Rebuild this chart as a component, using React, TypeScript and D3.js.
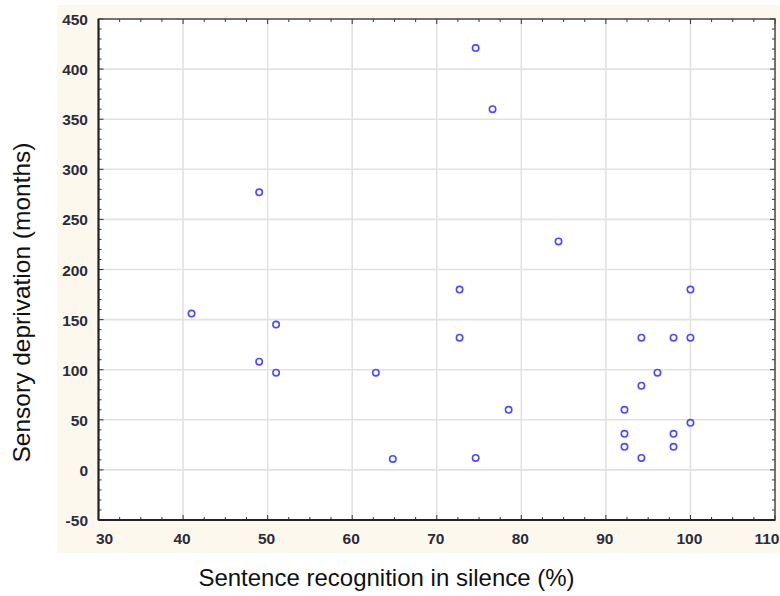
import React from "react";
import * as d3 from "d3";

const recognition = [41, 49, 49, 51, 51, 62.8, 64.8, 72.7, 72.7, 74.6, 74.6, 76.6, 78.5, 84.4, 92.2, 92.2, 92.2, 94.2, 94.2, 94.2, 96.1, 98, 98, 98, 100, 100, 100];
const deprivation = [156, 277, 108, 145, 97, 97, 11, 180, 132, 421, 12, 360, 60, 228, 60, 36, 23, 132, 84, 12, 97, 132, 36, 23, 180, 132, 47];
const xTicks = [30, 40, 50, 60, 70, 80, 90, 100, 110];
const yTicks = [-50, 0, 50, 100, 150, 200, 250, 300, 350, 400, 450];
const xLabel = "Sentence recognition in silence (%)";
const yLabel = "Sensory deprivation (months)";

export default function App() {
  const W = 780, H = 596;
  const left = 98.5, right = 775, top = 19, bottom = 520;
  const x = d3.scaleLinear().domain([30, 110]).range([left, right]);
  const y = d3.scaleLinear().domain([-50, 450]).range([bottom, top]);
  const xMinor = d3.range(30, 110.01, 2.5);
  const yMinor = d3.range(-50, 450.01, 10);
  const pts = recognition.map((r, i) => [r, deprivation[i]]);
  const font = "Arial, 'Liberation Sans', sans-serif";
  const xLabelPos = (t: number, i: number) => {
    if (i === 0) return x(t) + 6;
    if (i === xTicks.length - 1) return x(t) - 8;
    return x(t) - 1;
  };
  return (
    <svg width={W} height={H} style={{ position: "absolute", left: 0, top: 0 }}>
      <rect x={0} y={0} width={W} height={H} fill="#ffffff" />
      <rect x={57} y={5} width={W - 57} height={548} fill="#fdf8ee" />
      <rect x={left} y={top} width={right - left} height={bottom - top} fill="#ffffff" />
      {xTicks.slice(1, -1).map((t) => (
        <line key={"gx" + t} x1={x(t)} x2={x(t)} y1={top} y2={bottom} stroke="#e2e2e2" strokeWidth={1.6} />
      ))}
      {yTicks.slice(1, -1).map((t) => (
        <line key={"gy" + t} x1={left} x2={right} y1={y(t)} y2={y(t)} stroke="#e2e2e2" strokeWidth={1.6} />
      ))}
      {xMinor.map((t) => {
        const major = t % 10 === 0;
        const len = major ? 5 : 3;
        return (
          <g key={"xm" + t}>
            <line x1={x(t)} x2={x(t)} y1={bottom} y2={bottom - len} stroke="#333" strokeWidth={1} />
            <line x1={x(t)} x2={x(t)} y1={top} y2={top + len} stroke="#333" strokeWidth={1} />
          </g>
        );
      })}
      {yMinor.map((t) => {
        const major = t % 50 === 0;
        const len = major ? 5 : 3;
        return (
          <g key={"ym" + t}>
            <line x1={left} x2={left + len} y1={y(t)} y2={y(t)} stroke="#333" strokeWidth={1} />
            <line x1={right} x2={right - len} y1={y(t)} y2={y(t)} stroke="#333" strokeWidth={1} />
          </g>
        );
      })}
      <rect x={left} y={top} width={right - left} height={bottom - top} fill="none" stroke="#444" strokeWidth={1.5} />
      <line x1={left} x2={left} y1={top} y2={bottom} stroke="#222" strokeWidth={2} />
      <line x1={left} x2={right} y1={bottom} y2={bottom} stroke="#222" strokeWidth={2} />
      {xTicks.map((t, i) => (
        <text key={"xt" + t} x={xLabelPos(t, i)} y={544} textAnchor="middle" fontFamily={font} fontWeight="bold" fontSize={15.5} fill="#2b2b3a">
          {t}
        </text>
      ))}
      {yTicks.map((t) => (
        <text key={"yt" + t} x={88} y={y(t) + 6} textAnchor="end" fontFamily={font} fontWeight="bold" fontSize={15.5} fill="#2b2b3a">
          {t}
        </text>
      ))}
      {pts.map(([a, b], i) => (
        <circle key={"p" + i} cx={x(a)} cy={y(b)} r={3.2} fill="#ffffff" stroke="#4a4aff" strokeWidth={1.6} />
      ))}
      <text x={386.5} y={586} textAnchor="middle" fontFamily={font} fontSize={24} fill="#111">
        {xLabel}
      </text>
      <text transform={`translate(30,302.5) rotate(-90)`} textAnchor="middle" fontFamily={font} fontSize={24.5} fill="#111">
        {yLabel}
      </text>
    </svg>
  );
}
